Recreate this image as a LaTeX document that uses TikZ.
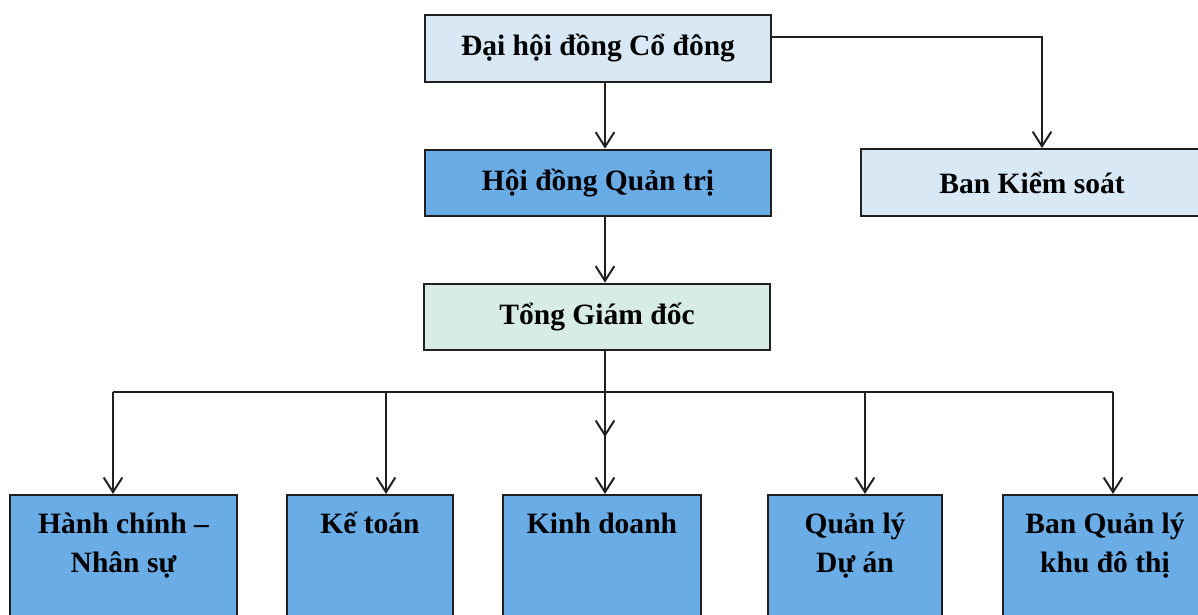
\documentclass[tikz,border=0pt]{standalone}
\usepackage{fontspec}
\setmainfont{Liberation Serif}
\usetikzlibrary{positioning, arrows.meta}
\definecolor{PaleBlu}{HTML}{D8E8F5}
\definecolor{MidBlu} {HTML}{6AACE6}
\definecolor{PaleGrn}{HTML}{D7ECE6}
\definecolor{EdgeGry}{HTML}{202020}

\begin{document}
\begin{tikzpicture}[
  x=0.015cm, y=-0.015cm,
  font=\bfseries\fontsize{12.6}{16.6}\selectfont,
  >={Straight Barb[length=0.22cm, width=0.28cm]},
  every node/.style={align=center},
  board/.style = {draw=EdgeGry, fill=PaleBlu, line width=0.85pt, inner sep=0pt,
                  minimum width=5.19cm, minimum height=1.0cm},
  exec/.style  = {board, fill=MidBlu},
  chief/.style = {board, fill=PaleGrn},
  dept/.style  = {draw=EdgeGry, fill=MidBlu, line width=0.85pt, inner sep=0pt,
                  anchor=north, minimum height=3cm},
  dtext/.style = {anchor=north, inner sep=0pt, yshift=-0.12cm},
  link/.style  = {->, line width=0.85pt, EdgeGry},
]
\useasboundingbox (0,0) rectangle (1198,615);

% ── Upper levels ──────────────────────────────────────────────────────────────
\node[board] (dhcd) at (598,48.5) {Đại hội đồng Cổ đông};
\node[exec]  (hdqt) at (598,183)  {Hội đồng Quản trị};
\node[board, minimum width=5.13cm] (bks) at (1032,182.5) {Ban Kiểm soát};
\node[chief] (tgd)  at (597,317)  {Tổng Giám đốc};

% ── Departments ───────────────────────────────────────────────────────────────
\node[dept, minimum width=3.41cm] (hcns) at (123.5,494)
  [label={[dtext]north:\rule{0pt}{1.05em}Hành chính –\\Nhân sự}] {};
\node[dept, minimum width=2.49cm] (kt)   at (370,494)
  [label={[dtext]north:\rule{0pt}{1.05em}Kế toán}] {};
\node[dept, minimum width=2.97cm] (kd)   at (602,494)
  [label={[dtext]north:\rule{0pt}{1.05em}Kinh doanh}] {};
\node[dept, minimum width=2.61cm] (qlda) at (855,494)
  [label={[dtext]north:\rule{0pt}{1.05em}Quản lý\\Dự án}] {};
\node[dept, minimum width=3.06cm] (bql)  at (1105,494)
  [label={[dtext]north:\rule{0pt}{1.05em}Ban Quản lý\\khu đô thị}] {};

% ── Spine ─────────────────────────────────────────────────────────────────────
\coordinate (spine) at (605,0);
\coordinate (tip)   at (605,437);
\draw[link] (dhcd.south -| spine) -- (hdqt.north -| spine);
\draw[link] (hdqt.south -| spine) -- (tgd.north -| spine);
\draw[link] (tgd.south -| spine)  -- (tip);
\draw[link] ([yshift=0.165cm]dhcd.east) -| ([xshift=0.15cm]bks.north);

% ── Bus to departments ────────────────────────────────────────────────────────
\coordinate (busL) at (113,392);
\coordinate (busR) at (1113,392);
\draw[line width=0.85pt, EdgeGry] (busL) -- (busR);
\foreach \x/\n in {113/hcns,386/kt,605/kd,865/qlda,1113/bql}{
  \coordinate (drop-\n) at (\x,392);
  \draw[link] (drop-\n) -- (drop-\n |- \n.north);
}

\end{tikzpicture}
\end{document}
